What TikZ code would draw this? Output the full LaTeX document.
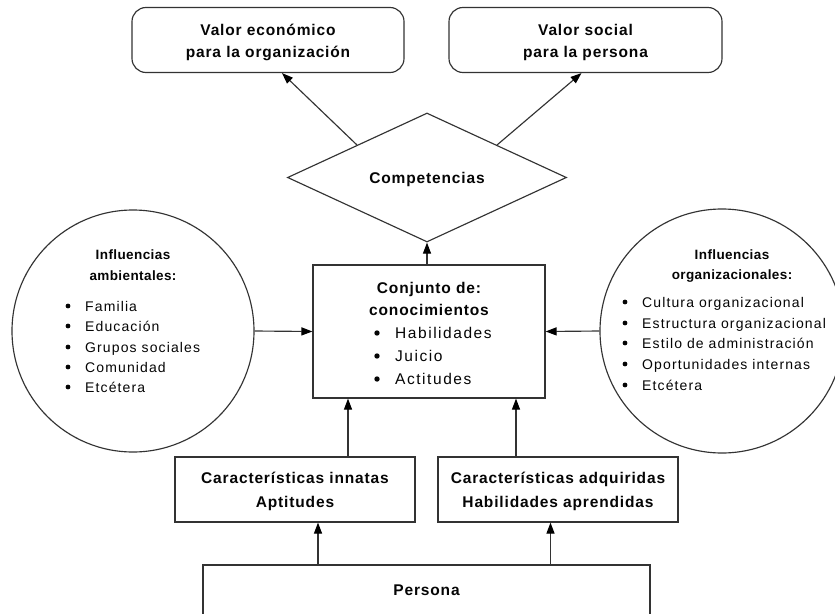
\documentclass[tikz,border=0pt]{standalone}
\usepackage{fontspec}
\setmainfont{Liberation Sans}
\newfontfamily\headfont[LetterSpace=5.5]{Liberation Sans}
\newfontfamily\listfont[LetterSpace=10]{Liberation Sans}
\newfontfamily\circlistfont[LetterSpace=8]{Liberation Sans}
\newfontfamily\circheadfont[LetterSpace=3]{Liberation Sans}
\usetikzlibrary{arrows.meta,shapes.geometric}
\definecolor{ink}{HTML}{050505}
\definecolor{rulegray}{HTML}{333333}

\tikzset{
  frame/.style={draw=rulegray, line width=1.15pt, inner sep=0pt},
  plainbox/.style={frame, rectangle},
  valbox/.style={frame, rectangle, rounded corners=14pt},
  ring/.style={frame, circle},
  rhomb/.style={frame, diamond},
  head/.style={font=\headfont\bfseries\fontsize{15.5}{18}\selectfont, text=ink, inner sep=0pt, anchor=base},
  listitem/.style={font=\listfont\fontsize{15.5}{18}\selectfont, text=ink, inner sep=0pt, anchor=base west},
  circhead/.style={font=\circheadfont\bfseries\fontsize{13.5}{16}\selectfont, text=ink, inner sep=0pt, anchor=base},
  circitem/.style={font=\circlistfont\fontsize{14}{17}\selectfont, text=ink, inner sep=0pt, anchor=base west},
  bulletdot/.style={fill=ink},
  flow/.style={draw=rulegray, line width=1.15pt, -{Triangle[length=11pt,width=8pt,color=black]}},
}

\begin{document}
\begin{tikzpicture}[x=1pt,y=-1pt]
  \useasboundingbox (0,0) rectangle (835,613);
  \fill[white] (0,0) rectangle (835,613);
  \clip (0,0) rectangle (835,613);

  % shapes
  \node[valbox, minimum width=272pt, minimum height=65pt] (vleft) at (268,40) {};
  \node[valbox, minimum width=273pt, minimum height=65pt] (vright) at (585.5,40) {};
  \node[rhomb, minimum width=279pt, minimum height=129pt] (dia) at (427,177.5) {};
  \node[plainbox, minimum width=232pt, minimum height=133pt] (kn) at (429,331.5) {};
  \node[ring, minimum size=242pt] (ambl) at (133,331) {};
  \node[ring, minimum size=244pt] (ambr) at (722,331) {};
  \node[plainbox, minimum width=240pt, minimum height=65pt] (innate) at (295,489.5) {};
  \node[plainbox, minimum width=240pt, minimum height=65pt] (acq) at (558,489.5) {};
  \node[plainbox, minimum width=447pt, minimum height=52pt] (persona) at (426.5,591) {};

  % texts of the value boxes
  \node[head] (vleft-a) at (268,35.6) {Valor económico};
  \node[head] (vleft-b) at (268,57.6) {para la organización};
  \node[head] (vright-a) at (585.5,35.6) {Valor social};
  \node[head] (vright-b) at (585.5,57.6) {para la persona};

  % diamond
  \node[head] (dia-t) at (427,183.6) {Competencias};

  % knowledge box
  \node[head] (kn-a) at (429,293.6) {Conjunto de:};
  \node[head] (kn-b) at (429,315.6) {conocimientos};
  \node[listitem] (kn-1) at (395,338.6) {Habilidades};
  \node[listitem] (kn-2) at (395,361.6) {Juicio};
  \node[listitem] (kn-3) at (395,384.6) {Actitudes};

  % environmental influences
  \node[circhead] (ambl-a) at (133,259) {Influencias};
  \node[circhead] (ambl-b) at (133,280) {ambientales:};
  \node[circitem] (ambl-1) at (85,311) {Familia};
  \node[circitem] (ambl-2) at (85,331) {Educación};
  \node[circitem] (ambl-3) at (85,352) {Grupos sociales};
  \node[circitem] (ambl-4) at (85,372) {Comunidad};
  \node[circitem] (ambl-5) at (85,392) {Etcétera};

  % organisational influences
  \node[circhead] (ambr-a) at (732,259) {Influencias};
  \node[circhead] (ambr-b) at (732,279) {organizacionales:};
  \node[circitem] (ambr-1) at (642,307) {Cultura organizacional};
  \node[circitem] (ambr-2) at (642,328) {Estructura organizacional};
  \node[circitem] (ambr-3) at (642,348) {Estilo de administración};
  \node[circitem] (ambr-4) at (642,369) {Oportunidades internas};
  \node[circitem] (ambr-5) at (642,390) {Etcétera};

  % bullets in front of the list items
  \foreach \n in {kn-1,kn-2,kn-3}
    \fill[bulletdot] ([xshift=-18pt,yshift=5.6pt]\n.base west) circle (2.7pt);
  \foreach \n in {ambl-1,ambl-2,ambl-3,ambl-4,ambl-5,ambr-1,ambr-2,ambr-3,ambr-4,ambr-5}
    \fill[bulletdot] ([xshift=-17pt,yshift=5pt]\n.base west) circle (2.4pt);

  % lower boxes
  \node[head] (innate-a) at (295,483.6) {Características innatas};
  \node[head] (innate-b) at (295,507.6) {Aptitudes};
  \node[head] (acq-a) at (558,483.6) {Características adquiridas};
  \node[head] (acq-b) at (558,507.6) {Habilidades aprendidas};
  \node[head] (persona-t) at (426.5,595.6) {Persona};

  % connectors
  \draw[flow] (dia.north west) -- ([xshift=14pt]vleft.south);
  \draw[flow] (dia.north east) -- ([xshift=-4pt]vright.south);
  \draw[flow] (kn.north -| dia.south) -- (dia.south);
  \draw[flow] (ambl.east) -- (kn.west);
  \draw[flow] (ambr.west) -- (kn.east);
  \draw[flow] ([xshift=53pt]innate.north) -- ([xshift=53pt]innate.north |- kn.south);
  \draw[flow] ([xshift=-42pt]acq.north) -- ([xshift=-42pt]acq.north |- kn.south);
  \draw[flow] ([xshift=-108.5pt]persona.north) -- ([xshift=-108.5pt]persona.north |- innate.south);
  \draw[flow] ([xshift=124pt]persona.north) -- ([xshift=124pt]persona.north |- acq.south);
\end{tikzpicture}
\end{document}
